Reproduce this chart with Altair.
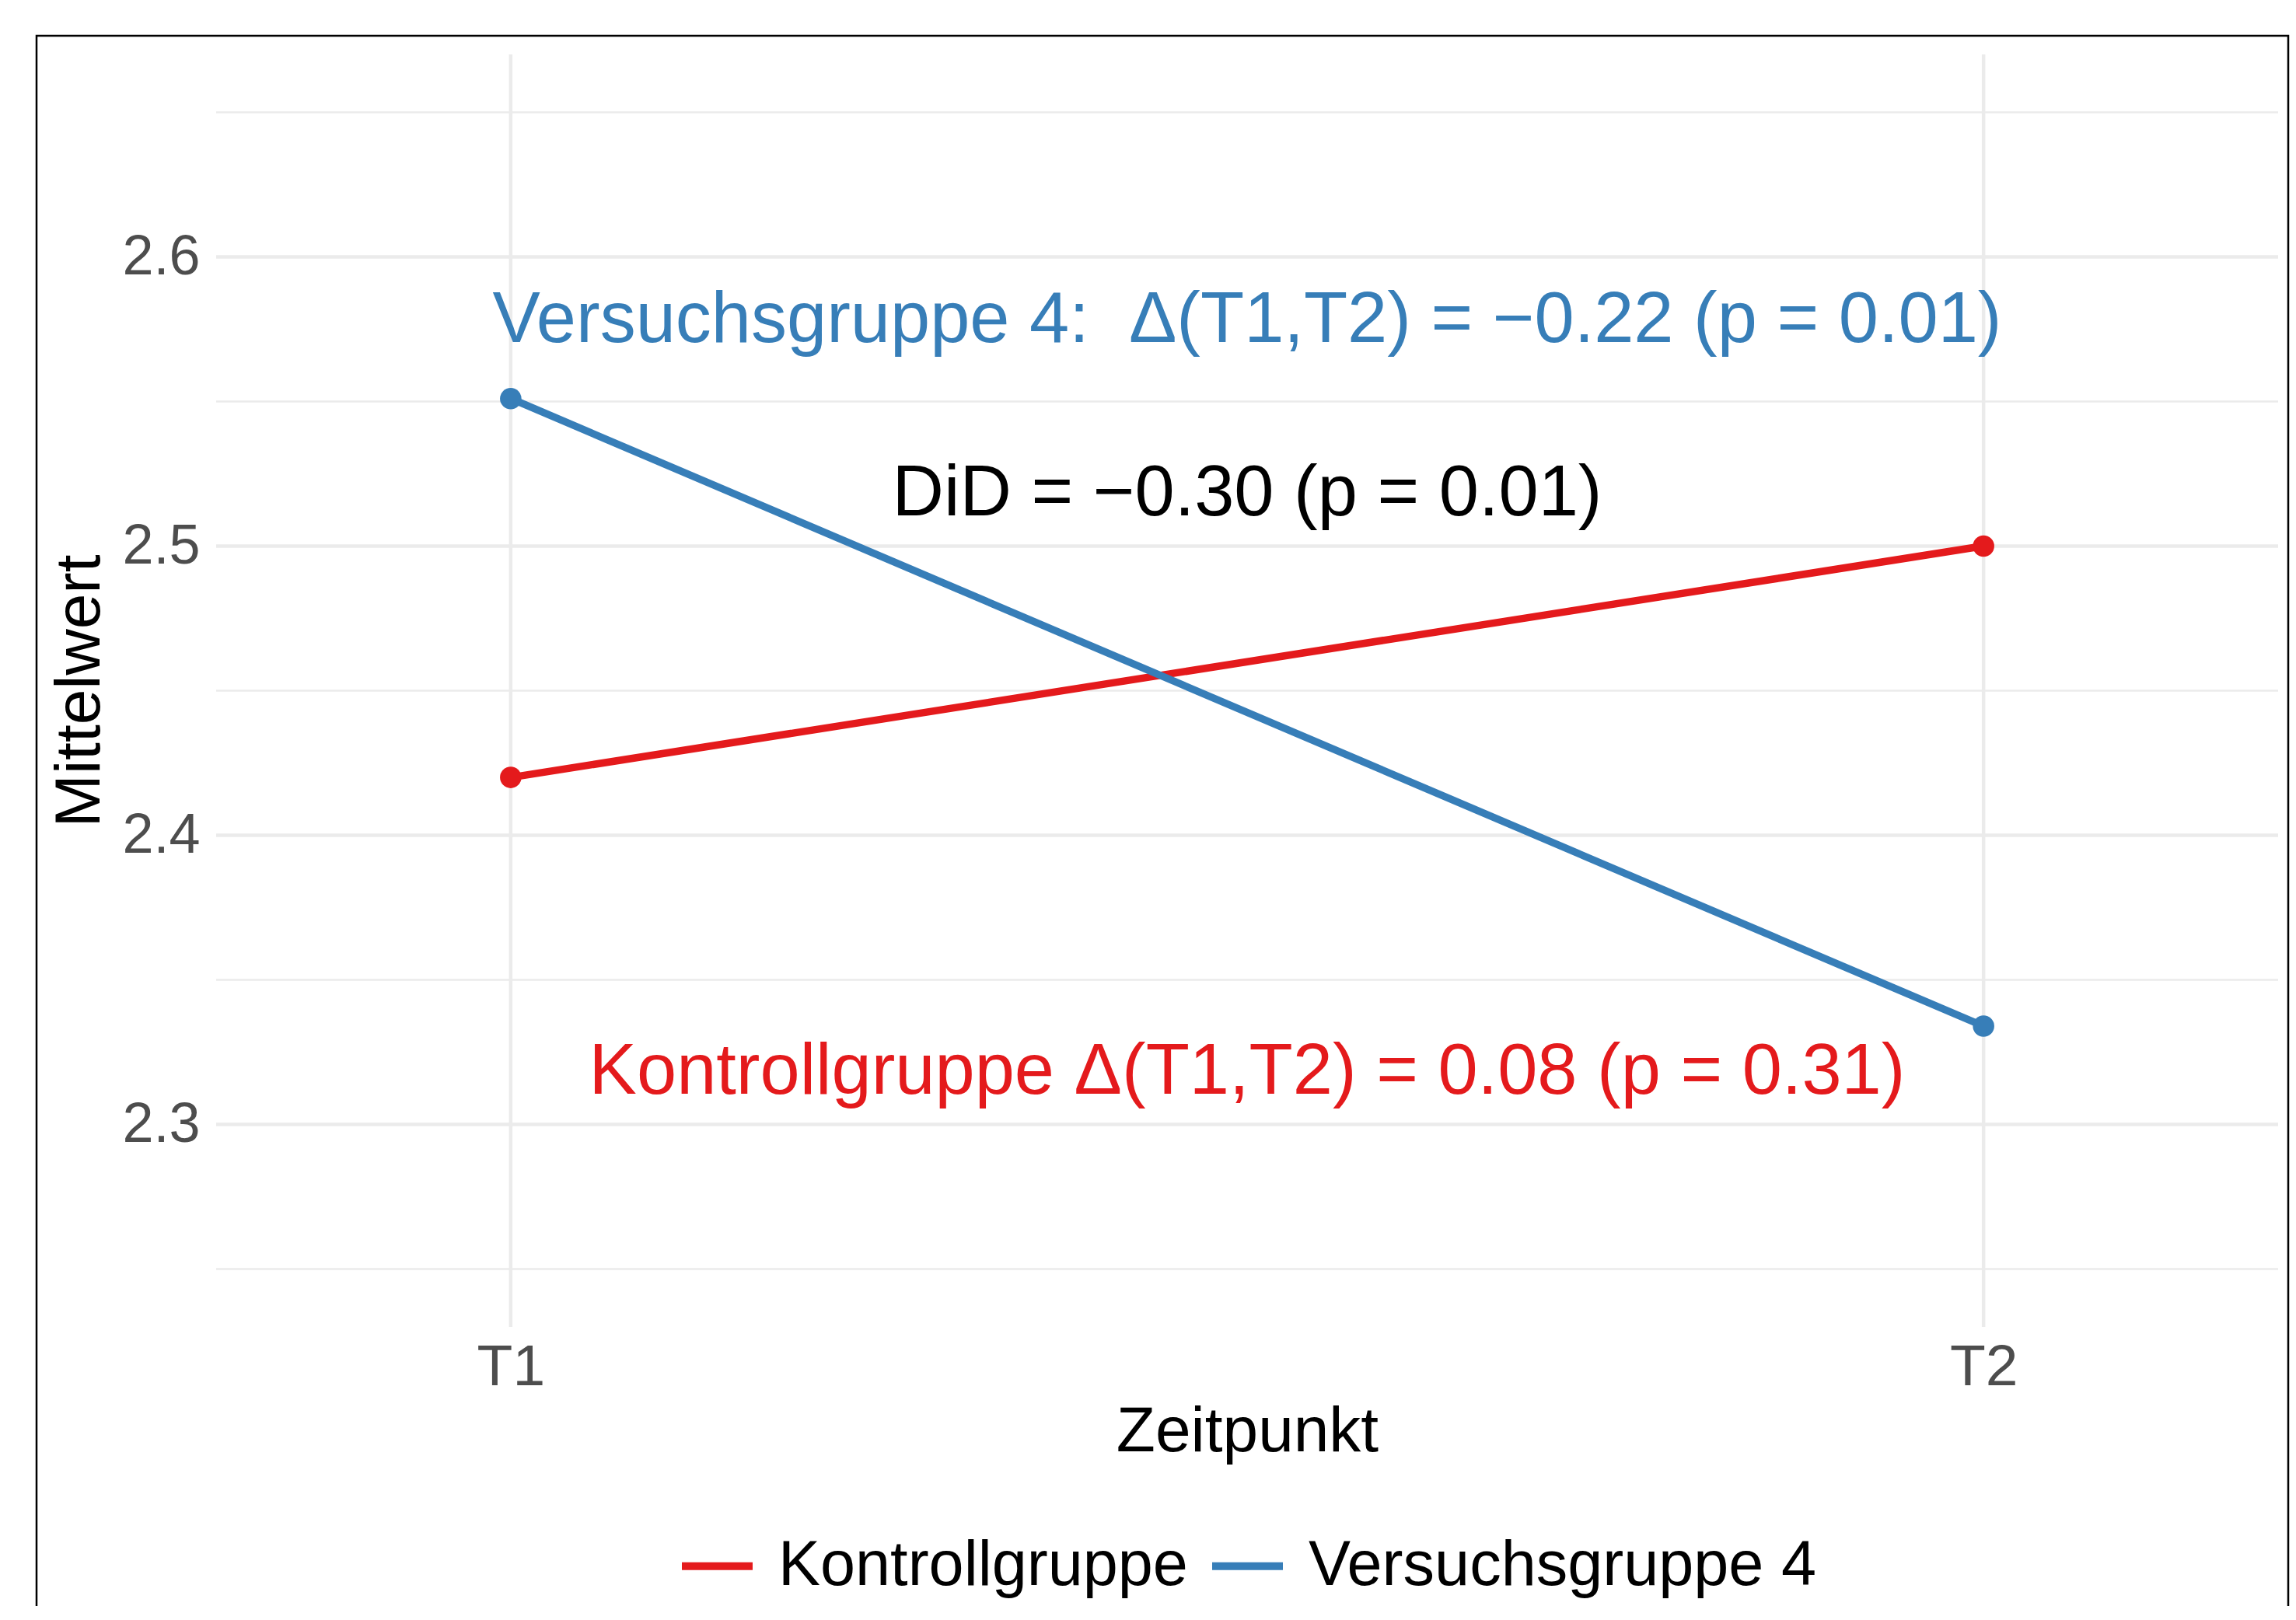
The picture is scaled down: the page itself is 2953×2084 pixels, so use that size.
import altair as alt
import pandas as pd

# ---- data ----
groups = ["Kontrollgruppe", "Kontrollgruppe", "Versuchsgruppe 4", "Versuchsgruppe 4"]
times = [1, 2, 1, 2]
means = [2.420, 2.500, 2.551, 2.334]
time_labels = ["T1", "T2"]
group_names = ["Kontrollgruppe", "Versuchsgruppe 4"]
group_colors = ["#E41A1C", "#377EB8"]
major_y = [2.3, 2.4, 2.5, 2.6]
minor_y = [2.25, 2.35, 2.45, 2.55, 2.65]
grid_x = [1, 2]
ann_text = [
    "Versuchsgruppe 4:\u00a0\u00a0\u0394(T1,T2) = \u22120.22 (p = 0.01)",
    "DiD = \u22120.30 (p = 0.01)",
    "Kontrollgruppe \u0394(T1,T2) = 0.08 (p = 0.31)",
]
ann_x = [1.5, 1.5, 1.5]
ann_y = [2.58, 2.52, 2.32]
ann_color = ["#377EB8", "#000000", "#E41A1C"]

FONT = "Liberation Sans"
W, H = 2652, 1637
PAD = {"left": 270, "top": 62, "right": 15, "bottom": 359}

df = pd.DataFrame({"Gruppe": groups, "t": times, "Mittelwert": means})
df_major = pd.DataFrame({"Mittelwert": major_y})
df_minor = pd.DataFrame({"Mittelwert": minor_y})
df_gx = pd.DataFrame({"t": grid_x})
df_ann = pd.DataFrame({"label": ann_text, "t": ann_x, "Mittelwert": ann_y, "c": ann_color})

xscale = alt.Scale(domain=[0.8, 2.2], nice=False, zero=False)
yscale = alt.Scale(domain=[2.23, 2.67], nice=False, zero=False)
cscale = alt.Scale(domain=group_names, range=group_colors)

label_expr = "[" + ",".join("'%s'" % s for s in time_labels) + "][datum.value - 1]"

x_axis = alt.Axis(
    values=grid_x, labelExpr=label_expr, title="Zeitpunkt", grid=False,
    domain=False, ticks=False, tickSize=0, labelFontSize=75, labelColor="#4D4D4D",
    labelFont=FONT, labelPadding=15, titleFont=FONT, titleFontSize=82,
    titleColor="#000000", titleFontWeight="normal", titlePadding=5,
)
y_axis = alt.Axis(
    values=major_y, format=".1f", title="Mittelwert", grid=False,
    domain=False, ticks=False, tickSize=0, labelFontSize=72, labelColor="#4D4D4D",
    labelFont=FONT, labelPadding=21, titleFont=FONT, titleFontSize=82,
    titleColor="#000000", titleFontWeight="normal", titlePadding=12,
)

X = alt.X("t:Q", scale=xscale, axis=x_axis)
Y = alt.Y("Mittelwert:Q", scale=yscale, axis=y_axis)

minor = alt.Chart(df_minor).mark_rule(color="#EBEBEB", strokeWidth=2.5).encode(y=Y)
major = alt.Chart(df_major).mark_rule(color="#EBEBEB", strokeWidth=4.5).encode(y=Y)
vgrid = alt.Chart(df_gx).mark_rule(color="#EBEBEB", strokeWidth=4.5).encode(x=X)

legend = alt.Legend(
    orient="none", legendX=594, legendY=1894, direction="horizontal", title=None,
    symbolType="stroke", symbolSize=8281, symbolStrokeWidth=10,
    labelFontSize=81, labelFont=FONT, labelColor="#000000", labelOffset=28,
    columnPadding=11, padding=0, labelLimit=0,
)

lines = alt.Chart(df).mark_line(strokeWidth=9.5).encode(
    x=X, y=Y,
    color=alt.Color("Gruppe:N", scale=cscale, legend=legend),
    detail="Gruppe:N",
)
points = alt.Chart(df).mark_circle(size=760, opacity=1).encode(
    x=X, y=Y,
    color=alt.Color("Gruppe:N", scale=cscale, legend=None),
)

texts = alt.Chart(df_ann).mark_text(
    font=FONT, fontSize=92, align="center", baseline="alphabetic", dy=35
).encode(
    x=X, y=Y,
    text="label:N",
    color=alt.Color("c:N", scale=None),
)

border = alt.Chart(pd.DataFrame({"k": [0]})).mark_rect(
    fillOpacity=0, stroke="#000000", strokeWidth=2.5
).encode(
    x=alt.value(-231), x2=alt.value(2665), y=alt.value(-24), y2=alt.value(2100)
)

chart = alt.layer(minor, major, vgrid, lines, points, texts, border).properties(
    width=W, height=H,
    autosize=alt.AutoSizeParams(type="none"),
    padding=PAD,
    background="#FFFFFF",
).configure_view(stroke=None)

chart.save("out.html", embed_options={"renderer": "svg", "actions": False})
